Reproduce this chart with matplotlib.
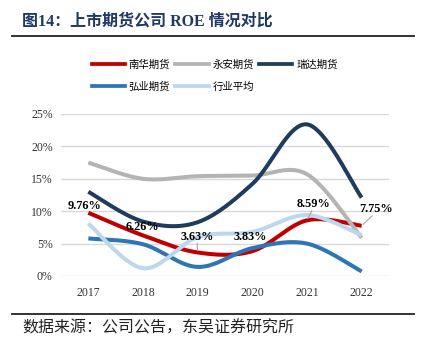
import numpy as np
import matplotlib
matplotlib.use("Agg")
import matplotlib.pyplot as plt
from matplotlib.lines import Line2D

years = ["2017", "2018", "2019", "2020", "2021", "2022"]
nanhua = [9.76, 6.26, 3.63, 3.83, 8.59, 7.75]
yongan = [17.5, 15.0, 15.4, 15.5, 15.7, 5.9]
ruida = [13.0, 8.4, 8.3, 14.2, 23.4, 12.1]
hongye = [5.8, 4.9, 1.4, 4.3, 5.0, 0.7]
industry = [8.1, 1.2, 6.0, 6.8, 9.4, 6.3]

series_names = ["南华期货", "永安期货", "瑞达期货", "弘业期货", "行业平均"]
series_vals = [nanhua, yongan, ruida, hongye, industry]
colors = ["#c00000", "#b4b4b4", "#203c5c", "#2e75b6", "#bdd7ee"]

y_ticks = [0, 5, 10, 15, 20, 25]
y_tick_labels = ["0%", "5%", "10%", "15%", "20%", "25%"]

CJK = ["Noto Sans CJK SC", "DejaVu Sans"]
SERIF = ["Liberation Serif", "Noto Sans CJK SC"]


def smooth(xs, ys, n=40):
    xs = np.asarray(xs, float)
    ys = np.asarray(ys, float)
    P = np.column_stack([xs, ys])
    out = []
    m = len(P)
    for i in range(m - 1):
        p0 = P[i]
        p3 = P[i + 1]
        pm = P[i - 1] if i > 0 else P[i]
        pp = P[i + 2] if i + 2 < m else P[i + 1]
        c1 = p0 + (p3 - pm) / 6.0
        c2 = p3 - (pp - p0) / 6.0
        t = np.linspace(0, 1, n)[:, None]
        seg = ((1 - t) ** 3) * p0 + 3 * ((1 - t) ** 2) * t * c1 + 3 * (1 - t) * t ** 2 * c2 + t ** 3 * p3
        out.append(seg if i == 0 else seg[1:])
    arr = np.vstack(out)
    return arr[:, 0], arr[:, 1]


fig = plt.figure(figsize=(4.26, 3.54), dpi=100)
W, H = 426, 354
ax = fig.add_axes([61 / W, 1 - 276 / H, (389 - 61) / W, (276 - 114) / H])

x = np.arange(len(years))
handles = []
for name, vals, c in zip(series_names, series_vals, colors):
    sx, sy = smooth(x, vals)
    ax.plot(sx, sy, color=c, lw=2.9, solid_capstyle="butt", zorder=3)
    handles.append(Line2D([], [], color=c, lw=2.7, label=name))

ax.set_xlim(-0.5, len(years) - 0.5)
ax.set_ylim(0, 25)
ax.set_yticks(y_ticks)
ax.set_yticklabels(y_tick_labels, fontfamily=SERIF, fontsize=8.5, color="#333333")
ax.set_xticks(x)
ax.set_xticklabels(years, fontfamily=SERIF, fontsize=8.5, color="#333333")
ax.tick_params(length=0, pad=8)
ax.tick_params(axis="y", pad=6)
ax.yaxis.grid(True, color="#d9d9d9", lw=1.0)
ax.set_axisbelow(True)
for s in ax.spines.values():
    s.set_visible(False)

# data labels for 南华期货
offsets = [(-3.6, 6.8, False), (-0.4, 8.7, False), (-0.7, 15.8, True),
           (-2.0, 14.5, False), (6.4, 16.0, True), (14.0, 16.5, True)]
for i, (v, (dx, dy, lead)) in enumerate(zip(nanhua, offsets)):
    ax.annotate(f"{v:.2f}%", xy=(i, v), xytext=(dx * 0.72, dy * 0.72),
                textcoords="offset points", ha="center", va="center",
                fontfamily=SERIF, fontweight="bold", fontsize=8.8, color="black",
                zorder=5)
    if lead:
        ax.annotate("", xy=(i, v), xytext=(dx * 0.72 * 0.75, (dy - 6.5) * 0.72),
                    textcoords="offset points",
                    arrowprops=dict(arrowstyle="-", color="#a6a6a6", lw=0.8,
                                    shrinkA=0, shrinkB=1.5), zorder=4)

order = [0, 3, 1, 4, 2]
leg = fig.legend([handles[i] for i in order], [series_names[i] for i in order],
                 ncol=3, loc="upper left", bbox_to_anchor=(91.7 / W, 1 - 59 / H),
                 frameon=False, prop={"family": CJK, "size": 7.5},
                 handlelength=3.2, handletextpad=0.35, columnspacing=0.5,
                 labelspacing=1.15, borderpad=0, borderaxespad=0)

# title and rules
fig.text(22 / W, 1 - 22 / H, "图14：上市期货公司 ROE 情况对比", fontfamily=SERIF,
         fontweight="bold", fontsize=11.5, color="#1f3864", va="center", ha="left")
fig.add_artist(Line2D([12 / W, 414 / W], [1 - 35.5 / H, 1 - 35.5 / H], color="#222222", lw=1.3))
fig.add_artist(Line2D([12 / W, 414 / W], [1 - 314.3 / H, 1 - 314.3 / H], color="#222222", lw=1.3))
fig.text(22 / W, 1 - 328 / H, "数据来源：公司公告，东吴证券研究所", fontfamily=CJK,
         fontsize=11.5, color="#222222", va="center", ha="left")

fig.savefig("out.png", dpi=100)
